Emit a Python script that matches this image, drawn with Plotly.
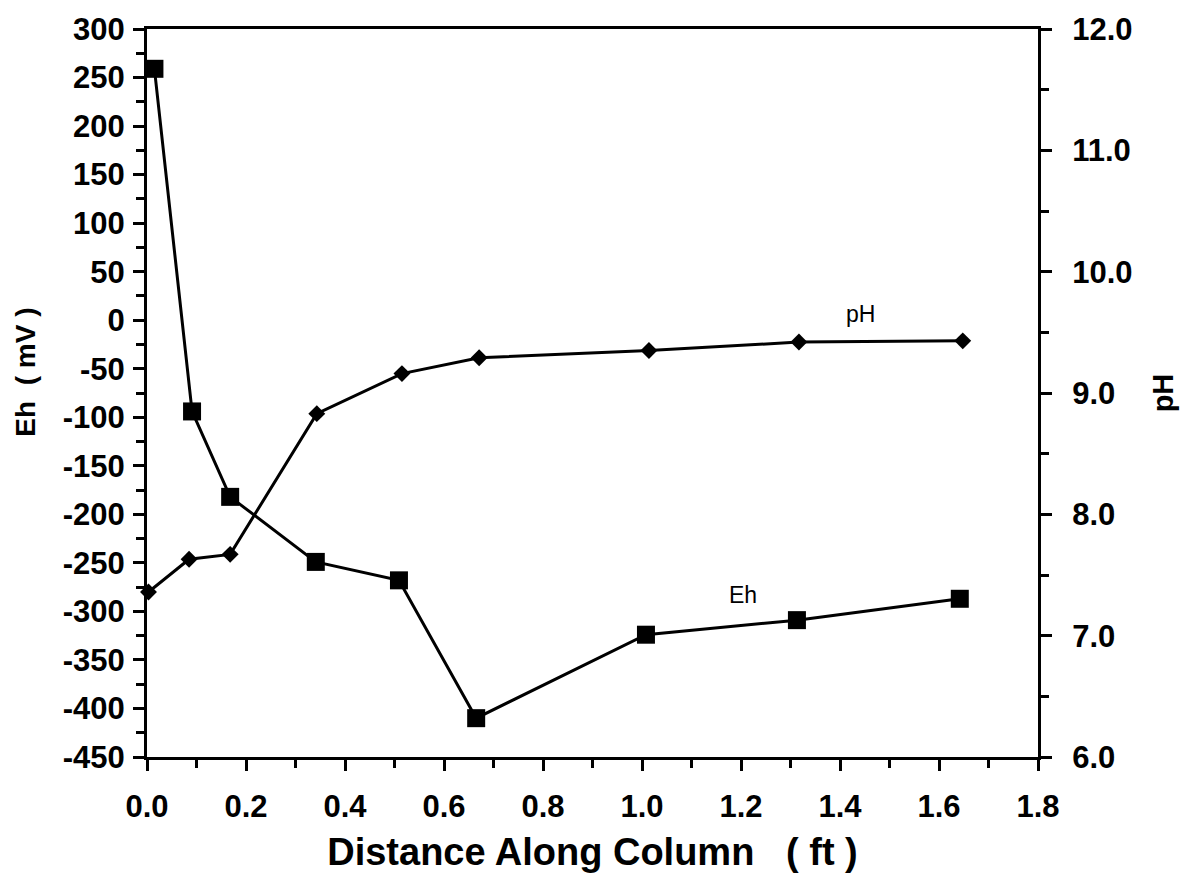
import plotly.graph_objects as go

# Data
eh_x = [0.015, 0.091, 0.168, 0.341, 0.509, 0.665, 1.008, 1.313, 1.642]
eh_vals = [259, -94, -182, -249, -268, -410, -324, -309, -287]

ph_x = [0.003, 0.085, 0.168, 0.343, 0.515, 0.671, 1.014, 1.317, 1.648]
ph_vals = [7.36, 7.63, 7.67, 8.83, 9.16, 9.29, 9.35, 9.42, 9.43]

eh_ticks = [300, 250, 200, 150, 100, 50, 0, -50, -100, -150, -200, -250, -300, -350, -400, -450]
eh_tick_labels = ["300", "250", "200", "150", "100", "50", "0", "-50", "-100", "-150",
                  "-200", "-250", "-300", "-350", "-400", "-450"]

FONT = "Liberation Sans, Arial, sans-serif"

fig = go.Figure()
fig.add_trace(go.Scatter(
    x=eh_x, y=eh_vals, mode="lines+markers", name="Eh",
    line=dict(color="black", width=3),
    marker=dict(symbol="square", size=18, color="black"),
    yaxis="y", cliponaxis=False,
))
fig.add_trace(go.Scatter(
    x=ph_x, y=ph_vals, mode="lines+markers", name="pH",
    line=dict(color="black", width=3),
    marker=dict(symbol="diamond", size=13, color="black"),
    yaxis="y2", cliponaxis=False,
))

fig.update_layout(
    width=1195, height=887,
    margin=dict(l=147, r=157, t=24, b=130),
    paper_bgcolor="white", plot_bgcolor="white",
    showlegend=False,
    font=dict(family=FONT, color="black"),
    xaxis=dict(
        range=[0, 1.8], dtick=0.2, tick0=0, tickformat=".1f",
        showgrid=False, zeroline=False,
        showline=True, linecolor="black", linewidth=3, mirror=True,
        ticks="outside", ticklen=11, tickwidth=3, tickcolor="black",
        minor=dict(dtick=0.1, ticks="outside", ticklen=8, tickwidth=2.5, tickcolor="black"),
        tickfont=dict(size=31, family=FONT, weight="bold"),
        ticklabelstandoff=9,
        title=dict(text="Distance Along Column   ( ft )",
                   font=dict(size=38, family=FONT, weight="bold"), standoff=16),
    ),
    yaxis=dict(
        range=[-450, 300], tickmode="array", tickvals=eh_ticks, ticktext=eh_tick_labels,
        showgrid=False, zeroline=False,
        showline=True, linecolor="black", linewidth=3,
        ticks="outside", ticklen=11, tickwidth=3, tickcolor="black",
        minor=dict(dtick=25, tick0=0, ticks="outside", ticklen=8, tickwidth=2.5, tickcolor="black"),
        tickfont=dict(size=31, family=FONT, weight="bold"),
        ticklabelstandoff=2,
    ),
    yaxis2=dict(
        range=[6, 12], dtick=1, tick0=6, tickformat=".1f",
        overlaying="y", side="right", anchor="x",
        showgrid=False, zeroline=False,
        showline=True, linecolor="black", linewidth=3,
        ticks="outside", ticklen=11, tickwidth=3, tickcolor="black",
        minor=dict(dtick=0.5, ticks="outside", ticklen=8, tickwidth=2.5, tickcolor="black"),
        tickfont=dict(size=31, family=FONT, weight="bold"),
        ticklabelstandoff=14,
        title=dict(text="pH", font=dict(size=29, family=FONT, weight="bold"), standoff=22),
    ),
    annotations=[
        dict(x=-121 / 891, y=(757 - 370) / 733, xref="paper", yref="paper",
             text="Eh  ( mV )", textangle=-90, showarrow=False,
             xanchor="center", yanchor="middle",
             font=dict(size=28, family=FONT, weight="bold", color="black")),
        dict(x=1.204, y=-283, xref="x", yref="y", text="Eh", showarrow=False,
             font=dict(size=23, family=FONT, color="black")),
        dict(x=1.442, y=9.65, xref="x", yref="y2", text="pH", showarrow=False,
             font=dict(size=23, family=FONT, color="black")),
    ],
)

fig.write_html("out.html")
